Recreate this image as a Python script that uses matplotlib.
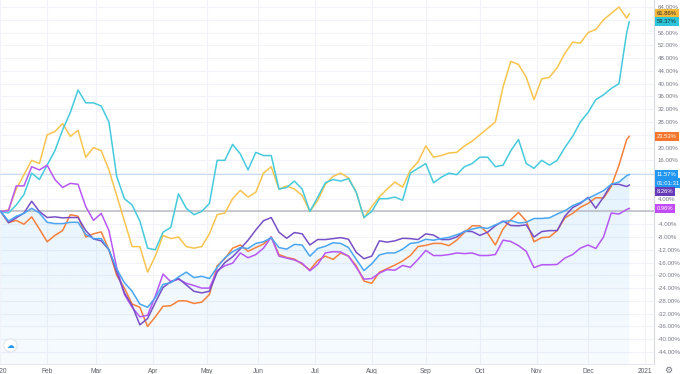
import matplotlib.pyplot as plt
import matplotlib.transforms as mtransforms
from matplotlib.patches import Polygon
from matplotlib.colors import to_rgb
import numpy as np
import pandas as pd

plt.rcParams['font.family'] = ['Liberation Sans', 'DejaVu Sans']

# US trading calendar, 2020
holidays = ['2020-01-20', '2020-02-17', '2020-04-10', '2020-05-25', '2020-07-03',
            '2020-09-07', '2020-11-26', '2020-12-25', '2021-01-01']
days = pd.bdate_range('2020-01-02', '2021-01-08')
days = days[~days.isin(pd.to_datetime(holidays))]

# sampled bars (every 3rd session) + last bar
sample_idx = list(range(3, 247, 3)) + [247]

# % change vs. start
yellow = [0, 0.5, 7, 11.5, 16, 15, 24, 25, 27.5, 23.5, 25.4, 17, 20, 19, 13, 5, -3, -11, -11, -19,
          -14, -7.5, -8.5, -8, -11, -11.5, -11, -7, -1, -0.5, 4, 6.6, 4.5, 6, 12, 14, 7, 8, 7, 5,
          0, 3.4, 8.5, 11, 12, 10.5, 6, -2, 1.5, 4.6, 7, 9.2, 7.6, 12.9, 15.5, 20.5, 17, 17.5, 18.3, 18.5,
          20.5, 22, 24, 26, 28, 39, 47, 46, 42, 35, 41.5, 42, 45, 49.5, 53, 52.7, 56, 57, 60, 62,
          64, 60.5, 61.86]
cyan = [0, -0.5, 2, 5.3, 12, 10, 14.5, 19, 25.5, 31, 38, 34, 34, 33, 28, 11, 4, 2, -3, -11.5,
        -12, -6.5, -5, 5.5, 1, -1, 0, 2.5, 16, 16, 21, 18, 13, 18.5, 17.5, 17.5, 7, 7.5, 9.5, 7,
        0, 4.4, 9, 10, 9.5, 10.3, 6, -1.9, 0, 4, 4, 4.5, 3.5, 12, 13.5, 15, 9, 10.7, 12, 11.5,
        14, 15, 17, 17, 14, 14.5, 19, 22.5, 15, 13.5, 16, 14.5, 16, 20, 23.5, 28, 31, 35, 36.5, 38.5,
        40, 56, 59.37]
orange = [0, -3.5, -2.8, -4, -1.7, -5.5, -9.5, -7.5, -6, -1, -1.5, -8, -7, -6.4, -12, -20, -24, -29, -30, -36,
          -33, -29.7, -29.5, -28, -28, -28.8, -28.4, -26, -17, -14.8, -11.5, -10.5, -12.5, -11.3, -10.2, -8, -13.5, -14.4, -14.9, -16.5,
          -18.3, -15.4, -14, -15, -13, -14, -17, -21.8, -22.5, -19, -17.9, -16.8, -15.5, -13.8, -11, -10.6, -10, -10, -10.7, -9,
          -6.6, -4.5, -4.5, -6.8, -10.5, -5.5, -2.6, -0.3, -3, -9.5, -8.2, -8, -6, -2, -0.6, 1.3, 2.5, 4.3, 4.2, 7.8,
          14.5, 22.5, 23.53]
blue = [0, -3, -1.5, -0.6, 1, -0.5, -3.4, -3.8, -3.8, -3.4, -3.4, -7.2, -8.5, -8.5, -12, -18, -22.3, -25, -29, -30,
        -27, -22.8, -22.3, -20.5, -19, -20.7, -20.3, -21, -17.5, -14.5, -12.6, -11.3, -11.6, -10, -9.5, -8.2, -11.3, -11.8, -10.3, -10.5,
        -14, -11.6, -10.9, -9.8, -10, -11.3, -15, -18.5, -16.4, -13.6, -13, -13, -11.8, -10, -9.7, -8.7, -9, -8.5, -8.1, -7.3,
        -6.4, -5.5, -5, -5.3, -4.2, -3.2, -2.8, -3.6, -3.4, -2.2, -2.2, -2, -0.8, 0.2, 1.8, 2.8, 4.1, 5.3, 6.5, 8.5,
        9.2, 11.2, 11.57]
dark_purple = [0, -3.5, -2, -0.5, 3.2, 0, -1.9, -1.7, -2, -1.9, -1.9, -6, -8.6, -9.2, -12, -19, -25.5, -29.5, -35.5, -33.5,
               -28.5, -23.8, -22, -21, -23, -25, -25.5, -25, -19, -16, -14.2, -11.7, -9, -5.8, -2.9, -1.9, -6.5, -8.4, -6.6, -7,
               -10.5, -8.8, -8.8, -8.5, -8.2, -8.7, -12.8, -14.8, -14, -9.2, -9.6, -9.2, -8.4, -8.5, -8.8, -7, -7.4, -8.8, -8.8, -8,
               -6.2, -6.3, -7.5, -6.5, -4.5, -3, -4.4, -4.5, -4.2, -8, -6.3, -6, -6, -1.5, 1.2, 2.5, 4.4, 1, 4.5, 8.5,
               8.5, 7.8, 8.26]
magenta = [0, 0.3, 8, 8, 14, 13, 14.5, 10, 7.5, 8.8, 8.5, 1.5, -2.8, -0.6, -6, -17.6, -26, -30, -33, -32.5,
           -26.5, -19.6, -22, -21.2, -22.5, -23.2, -24, -24, -18.5, -17, -16.2, -13, -14.5, -13.5, -11.5, -8, -14, -14.6, -15.2, -16.2,
           -18.6, -16.6, -13, -12.6, -12.7, -14, -17.5, -21.2, -21, -19.3, -18.2, -18.4, -16.9, -17.5, -15, -12.2, -13.8, -13.8, -13.5, -13,
           -13.2, -13, -13.8, -13.8, -13.5, -9, -9.4, -10.7, -12.5, -17.6, -16.7, -16.7, -16.6, -14.6, -13.5, -11.5, -10.5, -11.6, -8, -0.5,
           -0.8, 0.6, 0.96]

month_labels = ['Feb', 'Mar', 'Apr', 'May', 'Jun', 'Jul', 'Aug', 'Sep', 'Oct', 'Nov', 'Dec', '2021']
month_keys = [(2020, m) for m in range(2, 13)] + [(2021, 1)]
month_pos = [int(np.argmax((days.year == y) & (days.month == m))) for y, m in month_keys]

x = np.array(sample_idx)
ymin, ymax = -47.76, 66.2

fig = plt.figure(figsize=(6.8, 3.74), dpi=100)
fig.patch.set_facecolor('white')
ax = fig.add_axes([0, 10 / 374, 654 / 680, 364 / 374])
ax.set_facecolor('white')

# area under main series, fading gradient
verts = [(x[0], ymin)] + list(zip(x, blue)) + [(x[-1], ymin)]
poly = Polygon(verts, closed=True, facecolor='none', edgecolor='none')
ax.add_patch(poly)
rgba = np.zeros((256, 1, 4))
rgba[..., :3] = to_rgb('#2196f3')
rgba[:, 0, 3] = np.linspace(0.035, 0.12, 256)
im = ax.imshow(rgba, extent=[x[0], x[-1], ymin, max(blue)], origin='lower',
               aspect='auto', zorder=1, interpolation='bilinear')
im.set_clip_path(poly)

ax.axhline(0, color='#b8bbc3', lw=1.1, zorder=2)
ax.axhline(blue[-1], color='#c8dcf3', lw=0.8, zorder=2)

ax.plot(x, yellow, color='#f8c44e', lw=1.1, zorder=3)
ax.plot(x, cyan, color='#45cadc', lw=1.1, zorder=3)
ax.plot(x, orange, color='#f7803a', lw=1.1, zorder=3)
ax.plot(x, magenta, color='#b757f5', lw=1.1, zorder=3)
ax.plot(x, dark_purple, color='#7850c6', lw=1.1, zorder=3)
ax.plot(x, blue, color='#4aa6f2', lw=1.1, zorder=4)

ax.set_xlim(3.1, 256.6)
ax.set_ylim(ymin, ymax)

# axes styling
for s in ['top', 'left']:
    ax.spines[s].set_visible(False)
ax.spines['right'].set_color('#d6d9e0')
ax.spines['bottom'].set_color('#e6e8ee')
ax.grid(color='#f1f3f8', lw=0.8, zorder=0)
ax.set_axisbelow(True)

yt = np.arange(-44, 65, 4)
hidden = {60, 24, 12, 8, 0}
ax.set_yticks(yt)
ax.set_yticklabels(['' if v in hidden else f'{v:.2f}%' for v in yt])
ax.yaxis.tick_right()
ax.tick_params(axis='y', length=0, pad=2.5, labelsize=4.4, labelcolor='#787b86')

ax.set_xticks([2.7] + month_pos)
ax.set_xticklabels(['2020'] + month_labels)
ax.tick_params(axis='x', length=0, pad=3, labelsize=4.8, labelcolor='#5d606b')

# last-value tags on the price scale
trans = mtransforms.blended_transform_factory(ax.transAxes, ax.transData)
tags = [
    (yellow[-1], f'{yellow[-1]:.2f}%', '#f5b93a', '#2a2a2a'),
    (cyan[-1], f'{cyan[-1]:.2f}%', '#2cc5d9', '#1e2a30'),
    (orange[-1], f'{orange[-1]:.2f}%', '#f5762a', 'white'),
    (blue[-1], f'{blue[-1]:.2f}%', '#2196f3', 'white'),
    (8.9, '01:01:31', '#2196f3', 'white'),
    (6.3, f'{dark_purple[-1]:.2f}%', '#673ab7', 'white'),
    (magenta[-1], f'{magenta[-1]:.2f}%', '#c04bf7', 'white'),
]
for yv, txt, bg, fg in tags:
    ax.text(1.004, yv, txt, transform=trans, fontsize=4.2, color=fg, va='center', ha='left',
            bbox=dict(boxstyle='square,pad=0.35', fc=bg, ec='none'), clip_on=False, zorder=10)

# logo and settings icon
ax.plot([10 / 654], [1 - 345 / 364], 'o', transform=ax.transAxes, ms=9.5,
        mfc='white', mec='#e3e6ec', mew=0.8, clip_on=False, zorder=10)
ax.text(10 / 654, 1 - 345 / 364, '\u2601', transform=ax.transAxes, fontsize=5.5,
        color='#2196f3', ha='center', va='center', family='DejaVu Sans', zorder=11)
fig.text(668 / 680, 1 - 370 / 374, '\u2699', fontsize=6.5, color='#6d707b',
         ha='center', va='center', family='DejaVu Sans')

fig.savefig('out.png', dpi=100)
plt.close(fig)
